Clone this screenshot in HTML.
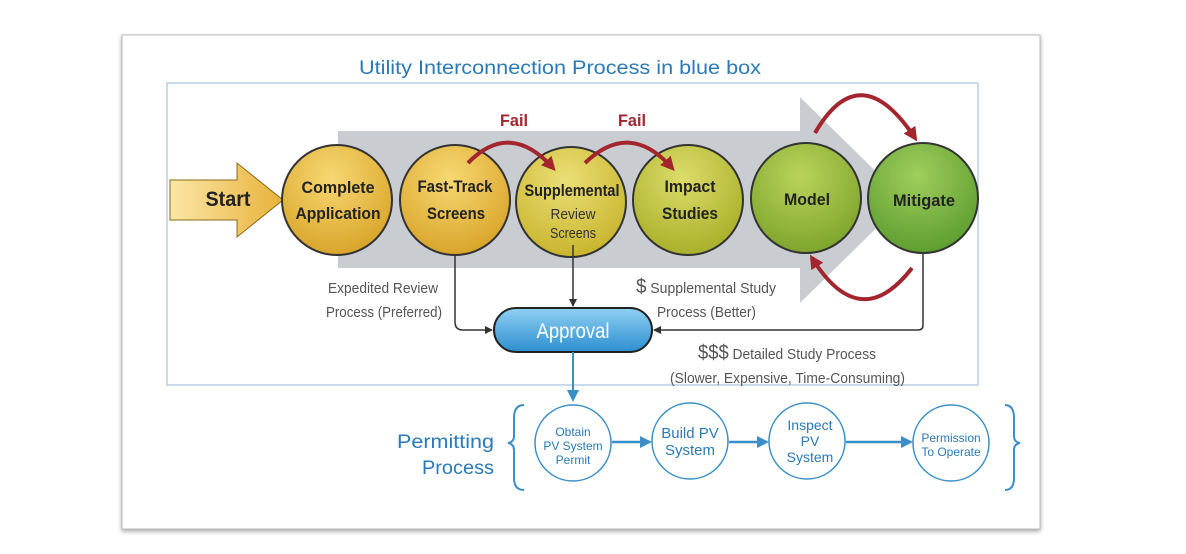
<!DOCTYPE html>
<html><head><meta charset="utf-8"><style>
html,body{margin:0;padding:0;background:#fff;width:1186px;height:554px;overflow:hidden}
svg{display:block}
text{font-family:"Liberation Sans",sans-serif}
</style></head><body>
<svg width="1186" height="554" viewBox="0 0 1186 554" xmlns="http://www.w3.org/2000/svg">
<defs>
<filter id="sh" x="-5%" y="-5%" width="110%" height="115%"><feDropShadow dx="0" dy="2" stdDeviation="2.5" flood-color="#000" flood-opacity="0.35"/></filter>
<radialGradient id="gy" cx="45%" cy="30%" r="70%"><stop offset="0" stop-color="#f7d873"/><stop offset="1" stop-color="#d9a52a"/></radialGradient>
<radialGradient id="gy2" cx="45%" cy="30%" r="70%"><stop offset="0" stop-color="#eadf77"/><stop offset="1" stop-color="#c9b52e"/></radialGradient>
<radialGradient id="gyg" cx="45%" cy="30%" r="70%"><stop offset="0" stop-color="#dcdc6a"/><stop offset="1" stop-color="#a9b02a"/></radialGradient>
<radialGradient id="gg1" cx="45%" cy="30%" r="70%"><stop offset="0" stop-color="#b9d35a"/><stop offset="1" stop-color="#7fa52c"/></radialGradient>
<radialGradient id="gg2" cx="45%" cy="30%" r="70%"><stop offset="0" stop-color="#9fce5c"/><stop offset="1" stop-color="#5e9e30"/></radialGradient>
<linearGradient id="st" x1="0" x2="1"><stop offset="0" stop-color="#fbe6a6"/><stop offset="1" stop-color="#e8b23a"/></linearGradient>
<linearGradient id="ap" x1="0" y1="0" x2="0" y2="1"><stop offset="0" stop-color="#8fd0f3"/><stop offset="1" stop-color="#2d8fd0"/></linearGradient>
<marker id="ar" markerWidth="8" markerHeight="8" refX="7" refY="4" orient="auto" markerUnits="userSpaceOnUse"><path d="M0,0 L8,4 L0,8z" fill="#333"/></marker>
<marker id="rr" markerWidth="14" markerHeight="14" refX="10" refY="7" orient="auto" markerUnits="userSpaceOnUse"><path d="M0,0 L14,7 L0,14z" fill="#a3262f"/></marker>
<marker id="ba" markerWidth="12" markerHeight="12" refX="10" refY="6" orient="auto" markerUnits="userSpaceOnUse"><path d="M0,0 L12,6 L0,12z" fill="#3a8fc8"/></marker>
</defs>
<rect x="122" y="35" width="918" height="494" fill="#fff" stroke="#bbb" filter="url(#sh)"/>
<text x="560" y="74" font-size="19" fill="#2a7ab8" text-anchor="middle" textLength="402" lengthAdjust="spacingAndGlyphs">Utility Interconnection Process in blue box</text>
<rect x="167" y="83" width="811" height="302" fill="none" stroke="#b8cfe6" stroke-width="1.5"/>
<path d="M338,131 L800,131 L800,97 L905,200 L800,303 L800,268 L338,268z" fill="#c9ccd0"/>
<path d="M170,180 L237,180 L237,163 L283,200 L237,237 L237,220 L170,220z" fill="url(#st)" stroke="#8a6a1a" stroke-width="1"/>
<text x="228" y="206" font-size="21" font-weight="bold" fill="#222" text-anchor="middle" textLength="45" lengthAdjust="spacingAndGlyphs">Start</text>
<g stroke="#333" stroke-width="2">
<circle cx="337" cy="200" r="55" fill="url(#gy)"/>
<circle cx="455" cy="200" r="55" fill="url(#gy)"/>
<circle cx="571" cy="202" r="55" fill="url(#gy2)"/>
<circle cx="688" cy="200" r="55" fill="url(#gyg)"/>
<circle cx="806" cy="198" r="55" fill="url(#gg1)"/>
<circle cx="923" cy="198" r="55" fill="url(#gg2)"/>
</g>
<g font-size="17" font-weight="bold" fill="#222" text-anchor="middle" lengthAdjust="spacingAndGlyphs">
<text x="338" y="193" textLength="73" lengthAdjust="spacingAndGlyphs">Complete</text><text x="338" y="219" textLength="85" lengthAdjust="spacingAndGlyphs">Application</text>
<text x="455" y="192" textLength="75" lengthAdjust="spacingAndGlyphs">Fast-Track</text><text x="456" y="219" textLength="58" lengthAdjust="spacingAndGlyphs">Screens</text>
<text x="572" y="196" textLength="95" lengthAdjust="spacingAndGlyphs">Supplemental</text>
<text x="690" y="192" textLength="51" lengthAdjust="spacingAndGlyphs">Impact</text><text x="690" y="219" textLength="56" lengthAdjust="spacingAndGlyphs">Studies</text>
<text x="807" y="205" textLength="46" lengthAdjust="spacingAndGlyphs">Model</text>
<text x="924" y="206" textLength="62" lengthAdjust="spacingAndGlyphs">Mitigate</text>
</g>
<text x="573" y="219" font-size="15" fill="#333" text-anchor="middle" textLength="45" lengthAdjust="spacingAndGlyphs">Review</text>
<text x="573" y="238" font-size="15" fill="#333" text-anchor="middle" textLength="46" lengthAdjust="spacingAndGlyphs">Screens</text>
<g fill="none" stroke="#a3262f" stroke-width="4">
<path d="M468,163 Q510,120 553,168" marker-end="url(#rr)"/>
<path d="M585,163 Q630,120 672,168" marker-end="url(#rr)"/>
<path d="M815,133 Q860,55 915,138" marker-end="url(#rr)"/>
<path d="M912,268 Q860,335 812,258" marker-end="url(#rr)"/>
</g>
<text x="514" y="126" font-size="17" font-weight="bold" fill="#a3262f" text-anchor="middle" textLength="28" lengthAdjust="spacingAndGlyphs">Fail</text>
<text x="632" y="126" font-size="17" font-weight="bold" fill="#a3262f" text-anchor="middle" textLength="28" lengthAdjust="spacingAndGlyphs">Fail</text>
<g fill="none" stroke="#333" stroke-width="1.5">
<path d="M455,255 L455,322 Q455,330 463,330 L492,330" marker-end="url(#ar)"/>
<path d="M573,245 L573,306" marker-end="url(#ar)"/>
<path d="M923,253 L923,325 Q923,330 918,330 L654,330" marker-end="url(#ar)"/>
</g>
<rect x="494" y="308" width="158" height="44" rx="22" fill="url(#ap)" stroke="#222" stroke-width="2"/>
<text x="573" y="338" font-size="21" fill="#fff" text-anchor="middle" textLength="73" lengthAdjust="spacingAndGlyphs">Approval</text>
<g font-size="15" fill="#555">
<text x="328" y="293" textLength="110" lengthAdjust="spacingAndGlyphs">Expedited Review</text>
<text x="326" y="317" textLength="116" lengthAdjust="spacingAndGlyphs">Process (Preferred)</text>
<text x="636" y="293" textLength="140" lengthAdjust="spacingAndGlyphs"><tspan font-size="20">$</tspan> Supplemental Study</text>
<text x="657" y="317" textLength="99" lengthAdjust="spacingAndGlyphs">Process (Better)</text>
<text x="698" y="359" textLength="178" lengthAdjust="spacingAndGlyphs"><tspan font-size="20">$$$</tspan> Detailed Study Process</text>
<text x="670" y="383" textLength="235" lengthAdjust="spacingAndGlyphs">(Slower, Expensive, Time-Consuming)</text>
</g>
<path d="M573,352 L573,400" stroke="#3a8fc8" stroke-width="2" marker-end="url(#ba)"/>
<text x="494" y="448" font-size="19" fill="#2a7ab8" text-anchor="end" textLength="97" lengthAdjust="spacingAndGlyphs">Permitting</text>
<text x="494" y="474" font-size="19" fill="#2a7ab8" text-anchor="end" textLength="72" lengthAdjust="spacingAndGlyphs">Process</text>
<g fill="none" stroke="#3a8fc8" stroke-width="2">
<path d="M524,405 Q514,405 514,418 L514,436 Q514,442 508,443 Q514,444 514,450 L514,478 Q514,490 524,490"/>
<path d="M1005,405 Q1014,405 1014,418 L1014,436 Q1014,442 1020,443 Q1014,444 1014,450 L1014,478 Q1014,490 1005,490"/>
<circle cx="573" cy="443" r="38" fill="#fff" stroke-width="1.5"/>
<circle cx="690" cy="441" r="38" fill="#fff" stroke-width="1.5"/>
<circle cx="807" cy="441" r="38" fill="#fff" stroke-width="1.5"/>
<circle cx="951" cy="443" r="38" fill="#fff" stroke-width="1.5"/>
<path d="M612,442 L650,442" marker-end="url(#ba)" stroke-width="2.5"/>
<path d="M729,442 L767,442" marker-end="url(#ba)" stroke-width="2.5"/>
<path d="M846,442 L911,442" marker-end="url(#ba)" stroke-width="2.5"/>
</g>
<g fill="#2a7ab8" text-anchor="middle">
<text x="573" y="436" font-size="12">Obtain</text><text x="573" y="450" font-size="12">PV System</text><text x="573" y="464" font-size="12">Permit</text>
<text x="690" y="438" font-size="15">Build PV</text><text x="690" y="455" font-size="15">System</text>
<text x="810" y="430" font-size="14">Inspect</text><text x="810" y="446" font-size="14">PV</text><text x="810" y="462" font-size="14">System</text>
<text x="951" y="442" font-size="12">Permission</text><text x="951" y="456" font-size="12">To Operate</text>
</g>
</svg>
</body></html>
